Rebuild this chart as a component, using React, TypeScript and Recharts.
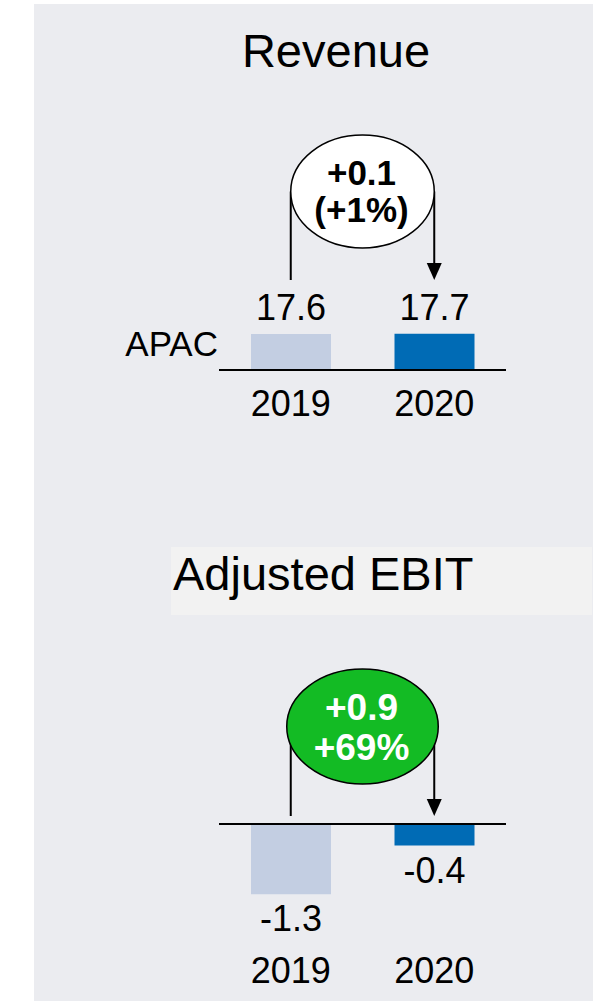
import React from 'react';
import { BarChart, Bar, XAxis, YAxis, Cell, LabelList, ReferenceLine, ReferenceArea } from 'recharts';

const FONT = '"Liberation Sans", Arial, Helvetica, sans-serif';

const years = ['2019', '2020'];
const revenue = [17.6, 17.7];
const ebit = [-1.3, -0.4];
const barColors = ['#C3CEE2', '#006BB5'];
const revenueDelta = ['+0.1', '(+1%)'];
const ebitDelta = ['+0.9', '+69%'];
const revenueTitle = 'Revenue';
const ebitTitle = 'Adjusted EBIT';
const regionLabel = 'APAC';

const revenueData = years.map((year, i) => ({ year, value: revenue[i] }));
const ebitData = years.map((year, i) => ({ year, value: ebit[i] }));

type BubbleOpts = {
  cyOffset: number;
  endOffset: number;
  ry: number;
  rxExtra: number;
  fill: string;
  textFill: string;
  fontSize: number;
  lines: string[];
  lineOffsets: number[];
};

function makeBubble(opts: BubbleOpts) {
  return (props: any) => {
    const { x, y, width } = props;
    const leftX = x + width / 4;
    const rightX = x + (width * 3) / 4;
    const cx = x + width / 2;
    const cy = y + opts.cyOffset;
    const endY = y + opts.endOffset;
    const rx = width / 4 + opts.rxExtra;
    return (
      <g>
        <line x1={leftX} y1={cy} x2={leftX} y2={endY} stroke="#000" strokeWidth={2} />
        <line x1={rightX} y1={cy} x2={rightX} y2={endY - 12} stroke="#000" strokeWidth={2} />
        <polygon
          points={`${rightX - 7.5},${endY - 17} ${rightX + 7.5},${endY - 17} ${rightX},${endY}`}
          fill="#000"
        />
        <ellipse cx={cx} cy={cy} rx={rx} ry={opts.ry} fill={opts.fill} stroke="#000" strokeWidth={1.5} />
        {opts.lines.map((t, i) => (
          <text
            key={i}
            x={cx - 1}
            y={y + opts.lineOffsets[i]}
            textAnchor="middle"
            fontFamily={FONT}
            fontWeight="bold"
            fontSize={opts.fontSize}
            fill={opts.textFill}
          >
            {t}
          </text>
        ))}
      </g>
    );
  };
}

const revenueBubble = makeBubble({
  cyOffset: 91.5,
  endOffset: 180,
  ry: 56.5,
  rxExtra: 0,
  fill: '#FFFFFF',
  textFill: '#000',
  fontSize: 35,
  lines: revenueDelta,
  lineOffsets: [85, 122],
});

const ebitBubble = makeBubble({
  cyOffset: 64.5,
  endOffset: 154,
  ry: 57.5,
  rxExtra: 4,
  fill: '#13BB24',
  textFill: '#FFFFFF',
  fontSize: 37,
  lines: ebitDelta,
  lineOffsets: [58, 98],
});

const makeTick = (dy: number) => (props: any) => (
  <text
    x={props.x}
    y={props.y + dy}
    textAnchor="middle"
    fontFamily={FONT}
    fontSize={36}
    fill="#000"
  >
    {props.payload.value}
  </text>
);

const topLabel = (props: any) => {
  const top = Math.min(props.y, props.y + props.height);
  return (
    <text x={props.x + props.width / 2} y={top - 14} textAnchor="middle" fontFamily={FONT} fontSize={36} fill="#000">
      {props.value}
    </text>
  );
};

const bottomLabel = (props: any) => {
  const bottom = Math.max(props.y, props.y + props.height);
  return (
    <text x={props.x + props.width / 2} y={bottom + 37} textAnchor="middle" fontFamily={FONT} fontSize={36} fill="#000">
      {props.value}
    </text>
  );
};

export default function App() {
  return (
    <div style={{ position: 'absolute', left: 0, top: 0, width: 593, height: 1001, background: '#fff', overflow: 'hidden' }}>
      <svg width={593} height={1001} style={{ position: 'absolute', left: 0, top: 0 }}>
        <rect x={34} y={4} width={559} height={997} fill="#EBECF0" />
        <text x={336} y={67} textAnchor="middle" fontFamily={FONT} fontSize={47} fill="#000">
          {revenueTitle}
        </text>
        <text x={218} y={356} textAnchor="end" fontFamily={FONT} fontSize={35} fill="#000">
          {regionLabel}
        </text>
        <rect x={171} y={547} width={421} height={68} fill="#F2F2F2" />
        <text x={173} y={590} fontFamily={FONT} fontSize={47} fill="#000">
          {ebitTitle}
        </text>
      </svg>

      <div style={{ position: 'absolute', left: 0, top: 0 }}>
        <BarChart width={593} height={430} data={revenueData} margin={{ top: 100, right: 87, bottom: 30, left: 219 }}>
          <XAxis
            dataKey="year"
            height={30}
            tickLine={false}
            tickSize={0}
            tickMargin={0}
            axisLine={{ stroke: '#000', strokeWidth: 2 }}
            tick={makeTick(46)}
            interval={0}
          />
          <YAxis hide domain={[0, 132]} allowDataOverflow />
          <ReferenceArea x1="2019" x2="2020" ifOverflow="visible" shape={revenueBubble} />
          <Bar dataKey="value" barSize={80} isAnimationActive={false}>
            {revenueData.map((d, i) => (
              <Cell key={d.year} fill={barColors[i]} />
            ))}
            <LabelList dataKey="value" content={topLabel} />
          </Bar>
        </BarChart>
      </div>

      <div style={{ position: 'absolute', left: 0, top: 600 }}>
        <BarChart width={593} height={401} data={ebitData} margin={{ top: 62, right: 87, bottom: 12, left: 219 }}>
          <XAxis
            dataKey="year"
            height={30}
            tickLine={false}
            tickSize={0}
            tickMargin={0}
            axisLine={false}
            tick={makeTick(24)}
            interval={0}
          />
          <YAxis hide domain={[-2.5, 3]} allowDataOverflow />
          <ReferenceArea x1="2019" x2="2020" ifOverflow="visible" shape={ebitBubble} />
          <Bar dataKey="value" barSize={80} isAnimationActive={false}>
            {ebitData.map((d, i) => (
              <Cell key={d.year} fill={barColors[i]} />
            ))}
            <LabelList dataKey="value" content={bottomLabel} />
          </Bar>
          <ReferenceLine y={0} stroke="#000" strokeWidth={2} ifOverflow="visible" />
        </BarChart>
      </div>
    </div>
  );
}
